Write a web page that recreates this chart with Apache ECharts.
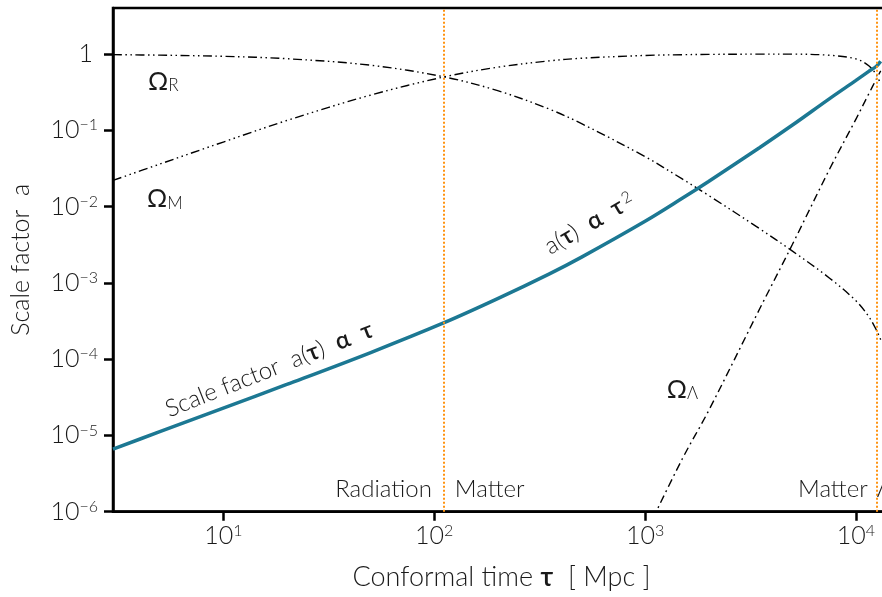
<!DOCTYPE html>
<html>
<head>
<meta charset="utf-8">
<script src="https://cdn.jsdelivr.net/npm/echarts@6/dist/echarts.min.js"></script>
<style>
  html, body { margin: 0; padding: 0; background: #fff; overflow: hidden; }
  #chart { width: 882px; height: 597px; }
</style>
</head>
<body>
<div id="chart"></div>
<script>
// Conformal time tau [Mpc] sampled along the curves
const tau = [3, 5, 10, 20, 50, 111.5, 200, 350, 500, 1000, 1500, 2000, 3500, 5000, 7500, 10000, 11500, 12500, 13100];
// Scale factor a(tau)
const scaleFactor = [6.6e-6, 1.12e-5, 2.28e-5, 4.65e-5, 1.22e-4, 3.0e-4, 6.2e-4, 1.3e-3, 2.17e-3, 6.4e-3, 1.28e-2, 2.13e-2, 5.95e-2, 0.117, 0.26, 0.45, 0.59, 0.69, 0.8];
// Radiation density fraction
const omegaR = [0.978, 0.964, 0.930, 0.866, 0.711, 0.5, 0.33, 0.19, 0.122, 0.045, 0.023, 0.014, 0.0051, 0.0026, 1.15e-3, 5.8e-4, 3.6e-4, 2.4e-4, 1.8e-4];
// Matter density fraction
const omegaM = [0.022, 0.036, 0.070, 0.134, 0.289, 0.5, 0.67, 0.81, 0.878, 0.955, 0.977, 0.986, 0.994, 0.994, 0.96, 0.86, 0.70, 0.53, 0.40];
// Dark energy density fraction (only the late-time part reaches the plotted range)
const tauLambda = [1000, 1500, 2000, 3500, 5000, 7500, 10000, 11500, 12500, 13100];
const omegaLambda = [5e-7, 4.9e-6, 2.1e-5, 4.6e-4, 3.2e-3, 0.031, 0.14, 0.30, 0.47, 0.60];
// Radiation-matter and matter-Lambda equality
const eraBoundaries = [111.5, 12500];
// Decade tick exponents shown on each axis
const xTickExponents = [1, 2, 3, 4];
const yTickExponents = [-6, -5, -4, -3, -2, -1, 0];

const FONT = 'Lato, "Open Sans", "DejaVu Sans", sans-serif';
const INK = '#1a1a1a';
const TEAL = '#1c7893';
const ORANGE = '#ff9412';

const chart = echarts.init(document.getElementById('chart'), null, { renderer: 'canvas' });

function decadeLabel(exps) {
  return function (v) {
    const e = Math.round(Math.log10(v));
    if (exps.indexOf(e) < 0) return '';
    if (e === 0) return '{one|1}';
    return '{b|10}{s|' + (e < 0 ? '\u2212' + (-e) : String(e)) + '}';
  };
}

const tickRich = {
  b: { fontSize: 25, fontFamily: FONT, fontWeight: 300, color: INK, lineHeight: 26 },
  one: { fontSize: 25, fontFamily: FONT, fontWeight: 300, color: INK, lineHeight: 26, padding: [0, 5, 0, 0] },
  s: { fontSize: 16, fontFamily: FONT, fontWeight: 300, color: INK, lineHeight: 8, verticalAlign: 'top' }
};

const textRich = {
  t: { fontSize: 24, fontFamily: FONT, fontWeight: 300, color: INK },
  g: { fontSize: 24, fontFamily: FONT, fontWeight: 600, color: INK },
  sup: { fontSize: 16, fontFamily: FONT, fontWeight: 300, color: INK, lineHeight: 4, verticalAlign: 'top', padding: [0, 0, 0, 3] },
  o: { fontSize: 25, fontFamily: FONT, fontWeight: 400, color: INK, lineHeight: 25 },
  sub: { fontSize: 17, fontFamily: FONT, fontWeight: 300, color: INK, lineHeight: 11, verticalAlign: 'bottom' }
};

function pairs(xs, ys) { return xs.map((x, i) => [x, ys[i]]); }

const axisCommon = {
  type: 'log',
  logBase: 10,
  axisLine: { show: true, lineStyle: { color: '#000', width: 2.5 } },
  axisTick: { show: true, inside: false, length: 9, lineStyle: { color: '#000', width: 2.5 } },
  minorTick: { show: false },
  splitLine: { show: false },
  minorSplitLine: { show: false }
};

const option = {
  animation: false,
  backgroundColor: '#fff',
  grid: {
    left: 113, top: 8, width: 777, height: 503.7,
    outerBoundsMode: 'none', containLabel: false,
    show: true, borderColor: '#000', borderWidth: 2.5, backgroundColor: 'transparent'
  },
  xAxis: Object.assign({}, axisCommon, {
    min: 3, max: 14500,
    name: '{t|Conformal time }{g|\u03C4}{t|  [ Mpc ]}',
    nameLocation: 'middle', nameGap: 52,
    nameTextStyle: { rich: {
      t: { fontSize: 27, fontFamily: FONT, fontWeight: 300, color: INK },
      g: { fontSize: 27, fontFamily: FONT, fontWeight: 600, color: INK } } },
    axisLabel: { margin: 11, formatter: decadeLabel(xTickExponents), rich: tickRich, showMinLabel: false, showMaxLabel: false }
  }),
  yAxis: Object.assign({}, axisCommon, {
    min: 1e-6, max: 4,
    name: 'Scale factor  a',
    nameLocation: 'middle', nameGap: 80,
    nameTextStyle: { fontSize: 25, fontFamily: FONT, fontWeight: 300, color: INK },
    axisLabel: { margin: 15, formatter: decadeLabel(yTickExponents), rich: tickRich, showMaxLabel: false }
  }),
  series: [
    {
      name: 'Omega_R', type: 'line', data: pairs(tau, omegaR), showSymbol: false, smooth: 0.35,
      lineStyle: { color: '#000', width: 1.4, type: [9, 3.5, 1.5, 3.5, 1.5, 3.5] }, z: 2
    },
    {
      name: 'Omega_M', type: 'line', data: pairs(tau, omegaM), showSymbol: false, smooth: 0.35,
      lineStyle: { color: '#000', width: 1.4, type: [9, 3.5, 1.5, 3.5, 1.5, 3.5, 1.5, 3.5] }, z: 2
    },
    {
      name: 'Omega_Lambda', type: 'line', data: pairs(tauLambda, omegaLambda), showSymbol: false, smooth: 0.35,
      lineStyle: { color: '#000', width: 1.4, type: [8, 4, 1.8, 4] }, z: 2
    },
    {
      name: 'a', type: 'line', data: pairs(tau, scaleFactor), showSymbol: false, smooth: 0.35,
      lineStyle: { color: TEAL, width: 3.5 }, z: 3,
      markLine: {
        silent: true, symbol: 'none', label: { show: false }, animation: false,
        lineStyle: { color: ORANGE, width: 2, type: [2, 2] },
        data: eraBoundaries.map(t => ({ xAxis: t }))
      }
    }
  ]
};

chart.setOption(option);

// Text annotations anchored in data coordinates (tau, a)
const annotations = [
  { text: '{o|\u03A9}{sub|R}', at: [4.4, 0.434], align: 'left' },
  { text: '{o|\u03A9}{sub|M}', at: [4.35, 0.0124], align: 'left' },
  { text: '{o|\u03A9}{sub|\u039B}', at: [1268, 4.0e-5], align: 'left' },
  { text: '{t|Radiation}', at: [97.5, 1.98e-6], align: 'right' },
  { text: '{t|Matter}', at: [125.3, 1.98e-6], align: 'left' },
  { text: '{t|Matter}', at: [11360, 1.98e-6], align: 'right' },
  { text: '{t|\u039B}', at: [12550, 1.98e-6], align: 'left' },
  { text: '{t|Scale factor  a(}{g|\u03C4}{t|)  }{g|\u03B1}{t|  }{g|\u03C4}', at: [16.5, 7.3e-5], align: 'center', angle: 21.6 },
  { text: '{t|a(}{g|\u03C4}{t|)  }{g|\u03B1}{t|  }{g|\u03C4}{sup|2}', at: [545, 6.0e-3], align: 'center', angle: 30 }
];

chart.setOption({
  graphic: annotations.map(n => {
    const p = chart.convertToPixel({ gridIndex: 0 }, n.at);
    return {
      type: 'text', x: p[0], y: p[1], rotation: (n.angle || 0) * Math.PI / 180, z: 10, silent: true,
      style: { text: n.text, rich: textRich, align: n.align, verticalAlign: 'middle', fill: INK }
    };
  })
});
</script>
</body>
</html>
